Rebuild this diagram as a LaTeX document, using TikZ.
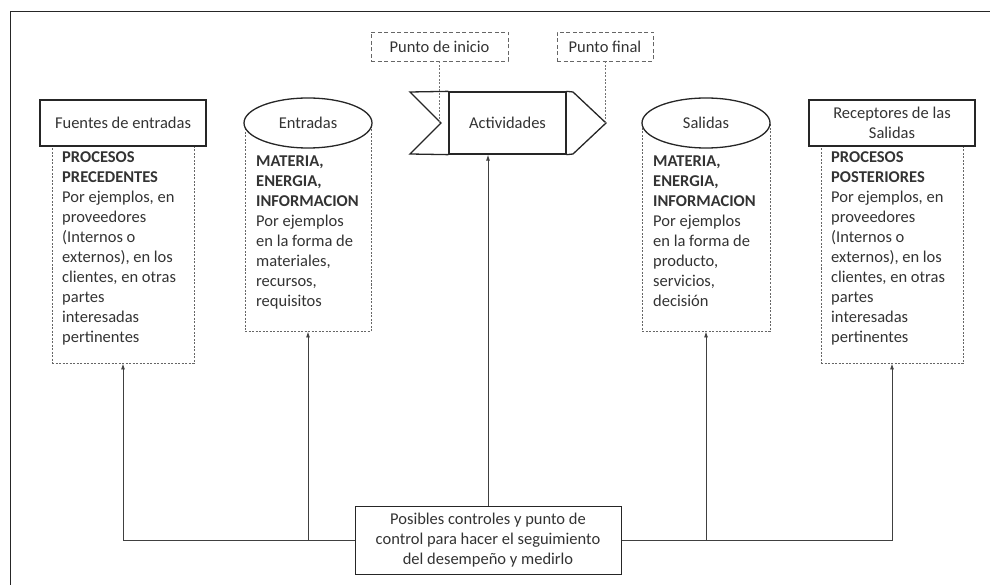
\documentclass[tikz,border=0pt]{standalone}
\usepackage{fontspec}
\setmainfont{Carlito}
\usetikzlibrary{shapes.geometric,arrows.meta}
\begin{document}
\begin{tikzpicture}[x=1pt,y=-1pt,
  txt/.style={font=\fontsize{16.5}{20}\selectfont, text=black!80, inner sep=0pt},
  mainbox/.style={txt, draw=black!85, line width=1.3pt, fill=white},
  mainline/.style={draw=black!85, line width=1.3pt, line join=miter},
  dbox/.style={draw=black!60, dash pattern=on 2pt off 1.5pt, line width=0.9pt, inner sep=0pt},
  pbox/.style={txt, draw=black!60, dash pattern=on 4pt off 2.5pt, line width=0.9pt},
  pconn/.style={draw=black!55, dash pattern=on 2pt off 1.5pt, line width=0.9pt},
  conn/.style={draw=black!75, line width=0.9pt},
  arr/.style={conn, -{Latex[length=6pt,width=4pt]}},
]
\useasboundingbox (0,0) rectangle (990,585);
% outer frame
\draw[black!85, line width=0.8pt] (10,585) -- (10,11) -- (990,11);

% dashed description boxes
\node[dbox, minimum width=142pt, minimum height=240pt] (fd) at (123,243) {};
\node[dbox, minimum width=126pt, minimum height=208pt] (ed) at (308,227) {};
\node[dbox, minimum width=128pt, minimum height=208pt] (sd) at (706,227) {};
\node[dbox, minimum width=142pt, minimum height=240pt] (rd) at (892,243) {};

% main shapes
\node[mainbox, minimum width=166pt, minimum height=46pt] (fuentes) at (123,123) {Fuentes de entradas};
\node[mainbox, ellipse, minimum width=128pt, minimum height=50pt] (entradas) at (308,123) {Entradas};
\node[mainbox, ellipse, minimum width=128pt, minimum height=50pt] (salidas) at (706,123) {Salidas};
\node[mainbox, align=center, minimum width=166pt, minimum height=46pt] (receptores) at (892,123) {Receptores de las\\Salidas};

\node[mainbox, minimum width=117pt, minimum height=62pt] (act) at (507.5,123) {Actividades};
\coordinate (notch) at (441,123);
\coordinate (tip) at (606,123);
\draw[mainline] (act.north west) -- (410,92) -- (notch) -- (410,154) -- (act.south west);
\draw[mainline] (act.north east) -- (573,92) -- (tip) -- (573,154) -- (act.south east);

\node[pbox, minimum width=137pt, minimum height=29pt] (pi) at (439.5,46.5) {Punto de inicio};
\node[pbox, minimum width=96pt, minimum height=29pt] (pf) at (605,46.5) {Punto final};
\draw[pconn] (pi.south) -- (pi.south |- notch);
\draw[pconn] (pf.south) -- (pf.south |- tip);

% texts in dashed boxes (anchored at the baseline of the last line)
\node[txt, anchor=base west, align=left] (fdt) at (62,342) {\textbf{PROCESOS}\\\textbf{PRECEDENTES}\\Por ejemplos, en\\proveedores\\(Internos o\\externos), en los\\clientes, en otras\\partes\\interesadas\\pertinentes};
\node[txt, anchor=base west, align=left] (edt) at (256,306) {\textbf{MATERIA,}\\\textbf{ENERGIA,}\\\textbf{INFORMACION}\\Por ejemplos\\en la forma de\\materiales,\\recursos,\\requisitos};
\node[txt, anchor=base west, align=left] (sdt) at (653,306) {\textbf{MATERIA,}\\\textbf{ENERGIA,}\\\textbf{INFORMACION}\\Por ejemplos\\en la forma de\\producto,\\servicios,\\decisión};
\node[txt, anchor=base west, align=left] (rdt) at (831,342) {\textbf{PROCESOS}\\\textbf{POSTERIORES}\\Por ejemplos, en\\proveedores\\(Internos o\\externos), en los\\clientes, en otras\\partes\\interesadas\\pertinentes};

% control box
\node[mainbox, line width=1pt, align=center, minimum width=266pt, minimum height=68pt] (ctrl) at (488,540) {Posibles controles y punto de\\control para hacer el seguimiento\\del desempeño y medirlo};

% connectors
\draw[arr] (ctrl.west) -| (fd.south);
\draw[arr] (ctrl.west) -| (ed.south);
\draw[arr] (ctrl.east) -| (sd.south);
\draw[arr] (ctrl.east) -| (rd.south);
\draw[arr] (ctrl.north) -- (ctrl.north |- act.south);
\end{tikzpicture}
\end{document}
